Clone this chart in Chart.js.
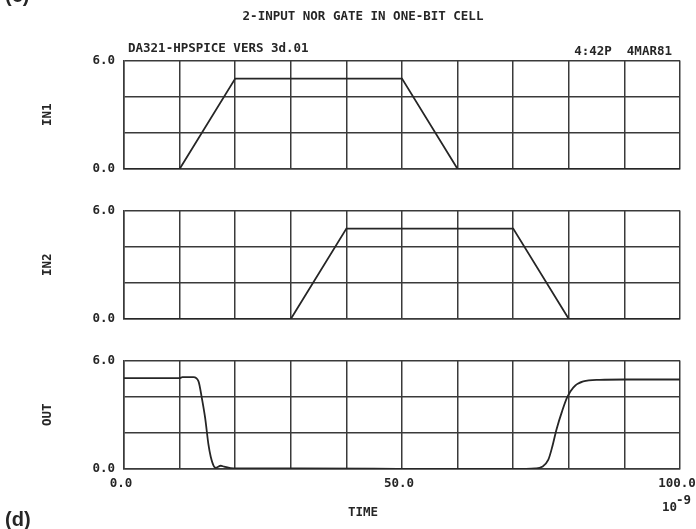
<!DOCTYPE html>
<html>
<head>
<meta charset="utf-8">
<script src="https://cdn.jsdelivr.net/npm/chart.js@4.4.0/dist/chart.umd.min.js"></script>
<style>
  html, body { margin: 0; padding: 0; background: #fff; }
  #wrap { position: relative; width: 696px; height: 529px; overflow: hidden; background: #fff; }
  #wrap canvas { position: absolute; left: 0; top: 0; }
</style>
</head>
<body>
<div id="wrap">
  <canvas id="plotIn1" width="696" height="529"></canvas>
  <canvas id="plotIn2" width="696" height="529"></canvas>
  <canvas id="plotOut" width="696" height="529"></canvas>
</div>
<script>
// time in ns, voltages in V
const in1Time = [0, 10, 20, 50, 60, 100];
const in1Volt = [0, 0, 5, 5, 0, 0];

const in2Time = [0, 30, 40, 70, 80, 100];
const in2Volt = [0, 0, 5, 5, 0, 0];

const outTime = [0, 10, 10.5, 12.5, 13.4, 14.0, 14.6, 15.2, 15.6, 16.2, 16.5, 17.4, 18.0, 19.7,
                 30, 45, 55, 70, 74, 75.2, 76.3, 77.0, 77.8, 78.8, 79.7, 80.8, 82.6, 85.6, 90, 100];
const outVolt = [5.03, 5.03, 5.08, 5.08, 4.85, 3.92, 2.81, 1.33, 0.68, 0.13, 0.07, 0.18, 0.13, 0.03,
                 0.03, 0.02, 0.0, 0.0, 0.03, 0.12, 0.5, 1.2, 2.2, 3.2, 3.96, 4.5, 4.84, 4.93, 4.95, 4.95];

const yLabelValues = [0, 6];
const xLabelValues = [0, 50, 100];

const chartTitle = '2-INPUT NOR GATE IN ONE-BIT CELL';
const headerLeft = 'DA321-HPSPICE VERS 3d.01';
const headerRight = '4:42P  4MAR81';
const xTitle = 'TIME';

const ink = '#262626';
const gridInk = '#3a3a3a';
const mono = '"DejaVu Sans Mono", monospace';

function pts(t, v) {
  return t.map((x, i) => ({ x: x, y: v[i] }));
}

const pageText = {
  id: 'pageText',
  afterDraw(chart) {
    const c = chart.ctx;
    c.save();
    c.fillStyle = ink;
    c.font = 'bold 12.5px ' + mono;
    c.textBaseline = 'middle';
    c.textAlign = 'center';
    c.fillText(chartTitle, 363, 17);
    c.textAlign = 'left';
    c.fillText(headerLeft, 128, 49);
    c.textAlign = 'right';
    c.fillText(headerRight, 672, 52);
    c.textAlign = 'center';
    c.fillText(xTitle, 363, 513);
    // 10^-9 under the last tick
    c.textAlign = 'right';
    c.fillText('10', 677, 508);
    c.textAlign = 'left';
    c.fillText('-9', 676, 501);
    // panel letters
    c.font = 'bold 20px "Liberation Sans", Arial, sans-serif';
    c.textBaseline = 'alphabetic';
    c.fillText('(c)', 5, 2);
    c.fillText('(d)', 5, 526);
    c.restore();
  }
};

function makePlot(id, label, time, volt, top, bottom, showX, smooth, extra) {
  const xHeight = showX ? 529 - bottom : 0;
  return new Chart(document.getElementById(id), {
    type: 'line',
    data: {
      datasets: [{
        data: pts(time, volt),
        borderColor: ink,
        borderWidth: 1.8,
        pointRadius: 0,
        tension: smooth ? 0.4 : 0,
        cubicInterpolationMode: smooth ? 'monotone' : 'default'
      }]
    },
    plugins: extra ? [extra] : [],
    options: {
      responsive: false,
      animation: false,
      devicePixelRatio: 1,
      layout: { padding: { top: top, bottom: 529 - bottom - xHeight, left: 0, right: 16 } },
      plugins: { legend: { display: false }, tooltip: { enabled: false } },
      scales: {
        x: {
          type: 'linear',
          min: 0,
          max: 100,
          ticks: {
            stepSize: 10,
            display: showX,
            autoSkip: false,
            maxRotation: 0,
            padding: 7,
            labelOffset: -3,
            color: ink,
            font: { family: mono, size: 12.5, weight: 'bold' },
            callback: v => xLabelValues.includes(v) ? v.toFixed(1) : ''
          },
          grid: { color: gridInk, lineWidth: 1.5, drawTicks: false },
          border: { color: gridInk, width: 1.5 },
          afterFit: s => { s.height = xHeight; s.paddingLeft = 0; s.paddingRight = 0; }
        },
        y: {
          min: 0,
          max: 6,
          ticks: {
            stepSize: 2,
            padding: 9,
            color: ink,
            font: { family: mono, size: 12.5, weight: 'bold' },
            callback: v => yLabelValues.includes(v) ? v.toFixed(1) : ''
          },
          grid: { color: gridInk, lineWidth: 1.5, drawTicks: false },
          border: { color: gridInk, width: 1.5 },
          title: {
            display: true,
            text: label,
            color: ink,
            font: { family: mono, size: 12.5, weight: 'bold' },
            padding: { top: 40, bottom: 0 }
          },
          afterFit: s => { s.width = 124; }
        }
      }
    }
  });
}

makePlot('plotIn1', 'IN1', in1Time, in1Volt, 60.5, 169, false, false, pageText);
makePlot('plotIn2', 'IN2', in2Time, in2Volt, 210.5, 319, false, false, null);
makePlot('plotOut', 'OUT', outTime, outVolt, 360.5, 469, true, true, null);
</script>
</body>
</html>
